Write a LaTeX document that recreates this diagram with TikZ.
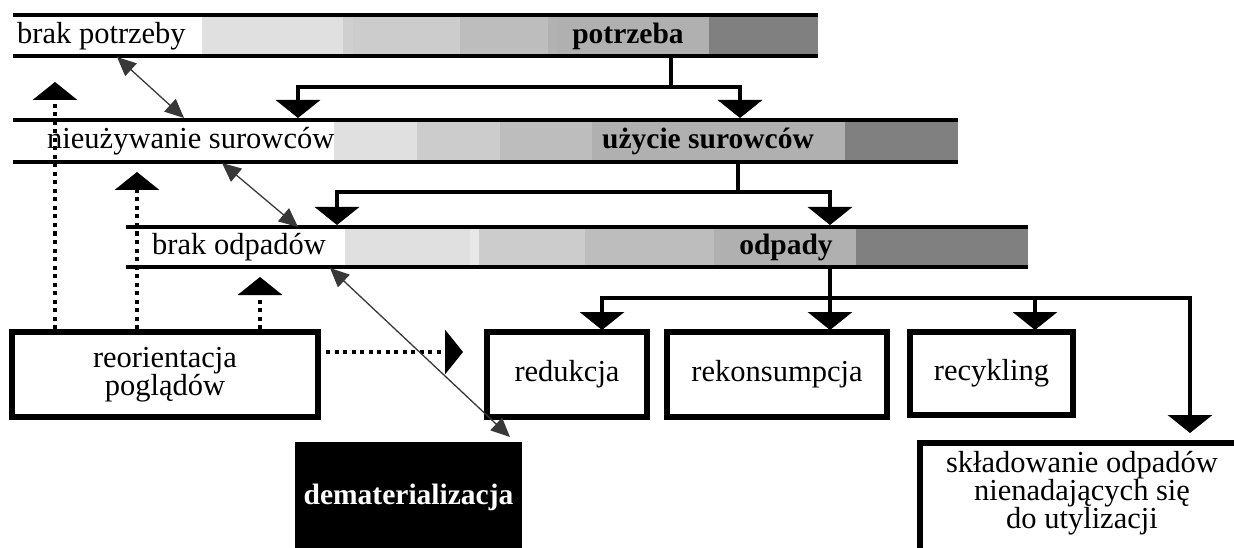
\documentclass[tikz,border=0pt]{standalone}
\usepackage{fontspec}
\setmainfont{Liberation Serif}
\usetikzlibrary{arrows.meta}
\definecolor{ga}{gray}{0.88}
\definecolor{gb}{gray}{0.81}
\definecolor{gc}{gray}{0.80}
\definecolor{gd}{gray}{0.74}
\definecolor{ge}{gray}{0.70}
\definecolor{gf}{gray}{0.69}
\definecolor{gdark}{gray}{0.50}
\definecolor{gwhite}{gray}{0.91}
\definecolor{relgray}{gray}{0.22}
\tikzset{
  barline/.style={line width=4pt},
  stem/.style={line width=4pt},
  flow/.style={line width=4pt, line join=miter, -{Triangle[length=18pt,width=44pt]}},
  dotflow/.style={line width=4pt, dash pattern=on 4pt off 4.5pt, -{Triangle[length=18pt,width=44pt]}},
  rel/.style={draw=relgray, line width=1.3pt, {Triangle[length=19pt,width=17pt]}-{Triangle[length=19pt,width=17pt]}},
  txt/.style={font=\fontsize{30.5}{28}\selectfont, inner sep=0pt},
  lbl/.style={txt, anchor=west},
  bold/.style={txt, font=\fontsize{29.5}{28}\selectfont\bfseries},
  box/.style={draw, line width=5.5pt, txt, align=center},
}
\begin{document}
\begin{tikzpicture}[x=1pt,y=-1pt]
\useasboundingbox (0,0) rectangle (1234,548);
% ---------- bar 1 ----------
\fill[ga] (202,15) rectangle (343,56);
\fill[gb] (343,15) rectangle (353,56);
\fill[gc] (353,15) rectangle (460,56);
\fill[gd] (460,15) rectangle (548,56);
\fill[ge] (548,15) rectangle (557,56);
\fill[gf] (557,15) rectangle (709,56);
\fill[gdark] (709,15) rectangle (818,56);
\draw[barline] (13,15) -- (818,15);
\draw[barline] (13,56) -- (818,56);
\node[lbl] (bp) at (17,36) {brak potrzeby};
\node[bold] (p) at (628,36) {potrzeba};
% ---------- bar 2 ----------
\fill[ga] (334,120) rectangle (417,162);
\fill[gc] (417,120) rectangle (500,162);
\fill[gd] (500,120) rectangle (592,162);
\fill[gf] (592,120) rectangle (845,162);
\fill[gdark] (845,120) rectangle (958,162);
\draw[barline] (13,120) -- (958,120);
\draw[barline] (13,162) -- (958,162);
\node[lbl] (ns) at (47,141) {nieużywanie surowców};
\node[bold] (us) at (708,141) {użycie surowców};
% ---------- bar 3 ----------
\fill[ga] (345,227) rectangle (470,267);
\fill[gwhite] (470,227) rectangle (479,267);
\fill[gc] (479,227) rectangle (585,267);
\fill[gd] (585,227) rectangle (714,267);
\fill[gf] (714,227) rectangle (856,267);
\fill[gdark] (856,227) rectangle (1028,267);
\draw[barline] (126,227) -- (1028,227);
\draw[barline] (126,267) -- (1028,267);
\node[lbl] (bo) at (152,247) {brak odpadów};
\node[bold] (od) at (786,247) {odpady};
% ---------- boxes ----------
\node[box, minimum width=306pt, minimum height=85pt] (reo) at (165,374.5) {reorientacja\\poglądów};
\node[box, minimum width=160pt, minimum height=85pt] (red) at (567,374.5) {redukcja};
\node[box, minimum width=220pt, minimum height=85pt] (rek) at (777,374.5) {rekonsumpcja};
\node[box, minimum width=163pt, minimum height=83pt] (rec) at (991.5,373.5) {recykling};
\fill[black] (295,442) rectangle (522,548);
\node[bold, text=white] (dem) at (408.5,497) {dematerializacja};
\draw[line width=5.5pt] (1234,443) -| (920,548);
\node[txt, align=center] (skl) at (1082,493) {składowanie odpadów\\nienadających się\\do utylizacji};
% ---------- coordinates ----------
\coordinate (p0) at (671,56);
\coordinate (p1) at (671,87);
\coordinate (pa) at (298,118);
\coordinate (pb) at (740,118);
\coordinate (u0) at (738,162);
\coordinate (u1) at (738,192);
\coordinate (ua) at (337,225);
\coordinate (ub) at (830,225);
\coordinate (o0) at (830,267);
\coordinate (o1) at (830,298);
\coordinate (oa) at (602,330);
\coordinate (ob) at (830,330);
\coordinate (oc) at (1035,330);
\coordinate (od2) at (1190,433);
% ---------- solid flows ----------
\draw[stem] (p0) -- (p1);
\draw[flow] (p1) -| (pa);
\draw[flow] (p1) -| (pb);
\draw[stem] (u0) -- (u1);
\draw[flow] (u1) -| (ua);
\draw[flow] (u1) -| (ub);
\draw[stem] (o0) -- (o1);
\draw[flow] (o1) -| (oa);
\draw[flow] (o1) -- (ob);
\draw[flow] (o1) -| (oc);
\draw[flow] (o1) -| (od2);
% ---------- dotted flows ----------
\coordinate (r1) at (55,329);
\coordinate (r1t) at (55,82);
\coordinate (r2) at (137,329);
\coordinate (r2t) at (137,172);
\coordinate (r3) at (260,329);
\coordinate (r3t) at (260,277);
\coordinate (r4) at (326,352);
\coordinate (r4t) at (463,352);
\draw[dotflow] (r1) -- (r1t);
\draw[dotflow] (r2) -- (r2t);
\draw[dotflow] (r3) -- (r3t);
\draw[dotflow] (r4) -- (r4t);
% ---------- thin double arrows ----------
\coordinate (a1) at (117,57);
\coordinate (a2) at (184,118);
\coordinate (b1) at (222,163);
\coordinate (b2) at (298,227);
\coordinate (c1) at (330,268);
\coordinate (c2) at (510,437);
\draw[rel] (a1) -- (a2);
\draw[rel] (b1) -- (b2);
\draw[rel] (c1) -- (c2);
\end{tikzpicture}
\end{document}
